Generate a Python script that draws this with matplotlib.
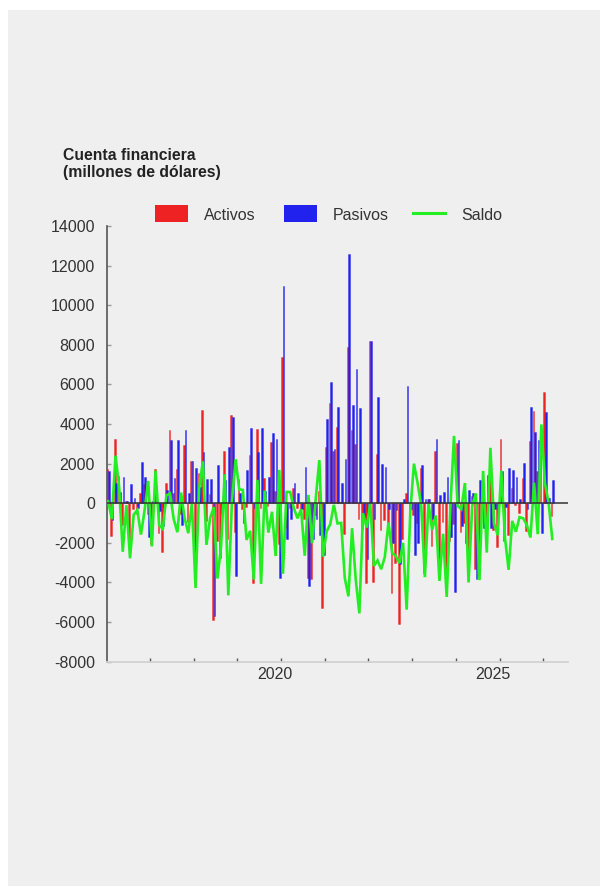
import numpy as np
import matplotlib
matplotlib.use("Agg")
import matplotlib.pyplot as plt
from matplotlib.patches import Rectangle
from matplotlib.lines import Line2D

plt.rcParams['font.family'] = ['Liberation Sans', 'DejaVu Sans']
plt.rcParams['axes.unicode_minus'] = False

# ---------------- data (millones de dólares), monthly from Jan 2016 ----------------
activos = [
    1730, -1650, 3240, 1400, -1100, 100, -1830, -300, -560, 500,
    960, -550, -2050, 1720, -1480, -2450, 1040, 3680, 500, 1710,
    -550, 2920, -970, 2130, -2490, 1550, 4720, -900, 490, -5880,
    -1900, -2740, 2640, -1810, 4450, -1440, 1240, -300, -170, 2420,
    -4050, 3760, -250, 1260, -140, 3100, 600, -2070, 7390, -1240,
    -230, 790, -220, -600, -800, -3750, -3830, -600, 600, -5300,
    2840, 5070, 2640, 3850, 50, -1560, 7880, 3700, 2970, -770,
    -1300, -4050, 8215, -3965, 2470, -1360, -860, -1250, -4540, -3000,
    -6100, -1800, 540, -700, -600, -1000, 1780, -3530, 235, -2150,
    2640, -3500, -970, -3400, -1900, -1070, 3060, -1440, -1010, -3330,
    370, -3300, -2700, 400, -1080, 1570, -1340, -2230, 3270, -1900,
    -1600, 790, -100, -500, 1290, -1390, 3140, 4650, 1630, 2500,
    5630, 290, -640,
]
pasivos = [
    1630, -840, 1040, 560, 1340, 130, 990, 280, -220, 2080,
    1320, -1680, 130, 100, -390, -1150, 650, 3190, 1290, 3170,
    -1090, 3680, 540, 2130, 1800, 800, 2600, 1200, 1240, -5680,
    1915, -550, 1180, 2860, 4370, -3660, 540, -975, 1680, 3810,
    -250, 2580, 3820, 620, 1340, 3530, 3260, -3750, 10950, -1810,
    -800, 1040, 540, -300, 1850, -4170, -1810, -800, -1580, -2600,
    4270, 6130, 2720, 4870, 1040, 2220, 12580, 4960, 6800, 4790,
    -800, -2820, 8215, -800, 5360, 1970, 1850, -280, -2030, -340,
    -3075, 200, 5910, -300, -2600, -2020, 1915, 200, 235, -800,
    3260, 420, 570, 1330, -1680, -4470, 3190, -1140, -2030, 670,
    500, -3800, 1180, -1230, 1410, -1230, -300, -620, 1630, -170,
    1760, 1680, 1340, 200, 2050, -300, 4870, 3610, 3190, -1480,
    4600, 290, 1160,
]
saldo = [
    100, -800, 2400, 850, -2450, -100, -2780, -580, -340, -1580,
    -360, 1130, -2180, 1650, -1100, -1300, 400, 490, -800, -1460,
    540, -760, -1510, 0, -4280, 750, 2120, -2100, -750, -200,
    -3800, -2200, 1460, -4650, 100, 2220, 700, 675, -1850, -1390,
    -3850, 1180, -4070, 640, -1480, -430, -2660, 1680, -3560, 570,
    570, -250, -760, -300, -2650, 420, -2020, 200, 2180, -2700,
    -1430, -1060, -80, -1020, -990, -3780, -4700, -1260, -3830, -5560,
    -500, -1230, 0, -3165, -2890, -3330, -2710, -970, -2510, -2660,
    -3025, -2000, -5370, -400, 2000, 1020, -135, -3730, 0, -1350,
    -620, -3920, -1540, -4730, -220, 3400, -130, -300, 1020, -4000,
    -130, 500, -3880, 1630, -2490, 2800, -1000, -1610, 1640, -1730,
    -3360, -890, -1440, -700, -760, -1090, -1730, 1040, -1560, 3980,
    1000, 0, -1800,
]
year_labels = ['2020', '2025']
y_ticks = list(range(-8000, 14001, 2000))

# ---------------- figure ----------------
W, H = 608, 894
fig = plt.figure(figsize=(W / 100, H / 100), dpi=100, facecolor='white')
fig.patches.append(Rectangle((8 / W, 1 - 886 / H), 592 / W, 876 / H,
                             transform=fig.transFigure, facecolor='#efefef',
                             edgecolor='none', zorder=-10))

ax_l, ax_r, ax_t, ax_b = 106.7, 568.3, 226.0, 661.7
ax = fig.add_axes([ax_l / W, 1 - ax_b / H, (ax_r - ax_l) / W, (ax_b - ax_t) / H])
ax.patch.set_alpha(0)

n = len(activos)
x = np.arange(n)
RED, BLUE, GREEN = '#ee2222', '#2222ee', '#22ee22'
FS = 11.5

ax.bar(x - 0.2, activos, width=0.46, color=RED, edgecolor=(0.93, 0.13, 0.13, 0.45),
       linewidth=0.6, zorder=2)
ax.bar(x + 0.2, pasivos, width=0.46, color=BLUE, edgecolor=(0.13, 0.13, 0.93, 0.45),
       linewidth=0.6, zorder=3)
ax.plot(x, saldo, color=GREEN, linewidth=1.9, zorder=4, solid_joinstyle='miter')
ax.axhline(0, color='#333333', linewidth=1.1, zorder=5)

ax.set_xlim(-0.41, 126.4)
ax.set_ylim(-8000, 14000)

# spines
for s in ['top', 'right']:
    ax.spines[s].set_visible(False)
ax.spines['left'].set_color('#555555')
ax.spines['left'].set_linewidth(1.2)
ax.spines['bottom'].set_color('#d2d2d2')
ax.spines['bottom'].set_linewidth(1.3)

ax.set_yticks(y_ticks)
ax.set_yticklabels([str(v) for v in y_ticks])
ax.tick_params(axis='y', direction='in', length=3, width=1, color='#999999',
               labelsize=FS, labelcolor='#333333', pad=8.5)

year_ticks = [11.5 + 12 * k for k in range(10)]
ax.set_xticks(year_ticks)
ax.set_xticklabels([''] * len(year_ticks))
ax.tick_params(axis='x', direction='in', length=3, width=1, color='#555555')
for lab, pos in zip(year_labels, [45.7, 105.8]):
    ax.text(pos, -8000 - 250, lab, ha='center', va='top', fontsize=FS, color='#333333',
            transform=ax.transData, clip_on=False)

# title
fig.text(63 / W, 1 - 160 / H, 'Cuenta financiera', fontsize=11.3, fontweight='bold',
         color='#222222', va='baseline', ha='left')
fig.text(63 / W, 1 - 177 / H, '(millones de dólares)', fontsize=11.3, fontweight='bold',
         color='#222222', va='baseline', ha='left')

# legend
def fy(py):
    return 1 - py / H

fig.patches.append(Rectangle((155 / W, fy(222)), 33 / W, 17.5 / H, transform=fig.transFigure,
                             facecolor=RED, edgecolor='none'))
fig.text(204 / W, fy(220), 'Activos', fontsize=FS, color='#333333', va='baseline')
fig.patches.append(Rectangle((283.5 / W, fy(222)), 33.5 / W, 17.5 / H, transform=fig.transFigure,
                             facecolor=BLUE, edgecolor='none'))
fig.text(333 / W, fy(220), 'Pasivos', fontsize=FS, color='#333333', va='baseline')
fig.lines.append(Line2D([413 / W, 445 / W], [fy(213.3), fy(213.3)], transform=fig.transFigure,
                        color=GREEN, linewidth=2.2))
fig.text(461 / W, fy(220), 'Saldo', fontsize=FS, color='#333333', va='baseline')

fig.savefig('out.png', dpi=100, facecolor='white')
